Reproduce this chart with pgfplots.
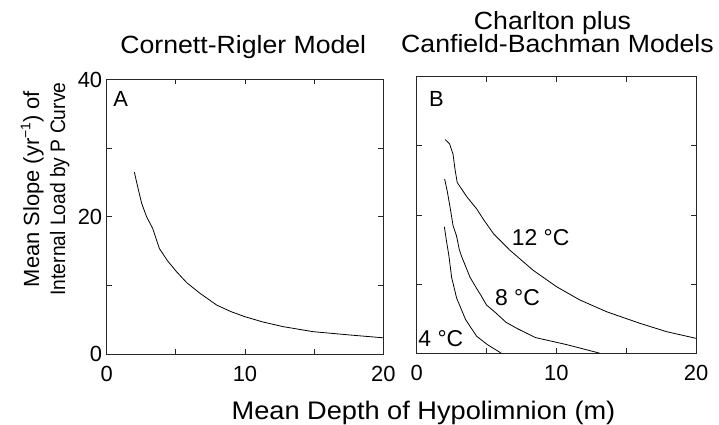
\documentclass[border=0pt]{standalone}
\usepackage{fontspec}
\setmainfont{Liberation Sans}
\newfontfamily\widefont[FakeStretch=1.07]{Liberation Sans}
\newfontfamily\narrowfont[FakeStretch=0.92]{Liberation Sans}
\usepackage{pgfplots}
\pgfplotsset{compat=1.18}

\pgfplotsset{
  panel/.style={
    scale only axis,
    anchor=south west,
    xmin=0, xmax=20, ymin=0, ymax=40,
    xtick={0,10,20}, minor xtick={5,15},
    ytick={0,20,40}, minor ytick={10,30},
    tick align=inside, tick pos=both,
    major tick length=5bp, minor tick length=5bp,
    axis line style={line width=0.9bp, black!85},
    every tick/.style={line width=0.8bp, black!85},
    /pgf/number format/assume math mode=true,
    ticklabel style={font=\fontsize{22}{22}\selectfont},
    xticklabel style={yshift=-8bp},
    yticklabel style={xshift=-1bp},
    clip=false,
  },
  curve/.style={black, line width=0.8bp, no marks},
}

\begin{document}
\begin{tikzpicture}
\useasboundingbox (0,0) rectangle (719bp,425bp);

% Panel A
\begin{axis}[panel, at={(106.7bp,70.7bp)}, width=276.6bp, height=274.8bp]
\addplot[curve] coordinates {
(2.0,26.5) (2.25,24.3) (2.53,21.96) (2.89,20.0) (3.33,18.3) (3.81,15.4)
(4.4,13.6) (5.06,12.0) (5.8,10.4) (6.75,8.87) (7.95,7.17) (9,6.2)
(10,5.47) (11.3,4.7) (12.77,4.02) (14.94,3.29) (17.59,2.81) (20,2.4)
};
\node[anchor=base west, inner sep=0, font=\fontsize{22}{22}\selectfont] at (axis cs:0.46,36.0) {A};
\end{axis}

% Panel B
\begin{axis}[panel, at={(416.7bp,71.5bp)}, width=279.3bp, height=277bp, yticklabels={}]
\addplot[curve] coordinates {
(2.03,30.9) (2.35,30.3) (2.6,28.8) (2.75,26.5) (2.9,24.7) (3.2,23.8)
(3.6,22.6) (4.29,20.9) (4.8,19.3) (5.5,17.3) (6.68,14.9) (8.35,12.0)
(10.02,9.64) (11.69,7.72) (13.6,6.03) (15.98,4.36) (17.9,3.15) (20,2.19)
};
\addplot[curve] coordinates {
(2.0,25.2) (2.2,23.3) (2.4,21.0) (2.6,18.5) (2.85,17.0) (3.05,15.0)
(3.22,14.0) (3.82,11.0) (4.29,9.4) (4.6,8.4) (5.0,7.0) (5.7,5.8)
(6.4,4.5) (7.2,3.6) (8.5,2.3) (10.7,1.3) (13.1,0.05)
};
\addplot[curve] coordinates {
(1.98,18.3) (2.15,16.0) (2.3,14.2) (2.5,11.0) (2.86,8.0) (3.5,4.9)
(4.29,2.5) (5.05,1.3) (6.05,0.05)
};
\node[anchor=base west, inner sep=0, font=\fontsize{22}{22}\selectfont] at (axis cs:0.88,35.6) {B};
\node[anchor=base west, inner sep=0, font=\fontsize{23}{23}\selectfont] at (axis cs:6.8,15.66) {12 °C};
\node[anchor=base west, inner sep=0, font=\fontsize{23}{23}\selectfont] at (axis cs:5.6,7.0) {8 °C};
\node[anchor=base west, inner sep=0, font=\fontsize{23}{23}\selectfont] at (axis cs:0.11,0.94) {4 °C};
\end{axis}

% Titles
\node[anchor=base, inner sep=0, font=\widefont\fontsize{25}{25}\selectfont] at (243.3bp,371.7bp) {Cornett-Rigler Model};
\node[anchor=base, inner sep=0, font=\widefont\fontsize{25}{25}\selectfont] at (552.5bp,395bp) {Charlton plus};
\node[anchor=base, inner sep=0, font=\widefont\fontsize{25}{25}\selectfont] at (557.5bp,372.3bp) {Canfield-Bachman Models};

% Axis labels
\node[anchor=base, inner sep=0, font=\widefont\fontsize{25.5}{25.5}\selectfont] at (423.5bp,6bp) {Mean Depth of Hypolimnion (m)};
\node[anchor=base, rotate=90, inner sep=0, font=\fontsize{22}{22}\selectfont] at (39bp,236bp) {Mean Slope (yr\raisebox{0.75ex}{\fontsize{14}{14}\selectfont −1}) of};
\node[anchor=base, rotate=90, inner sep=0, font=\narrowfont\fontsize{21}{21}\selectfont] at (65bp,236bp) {Internal Load by P Curve};
\end{tikzpicture}
\end{document}
